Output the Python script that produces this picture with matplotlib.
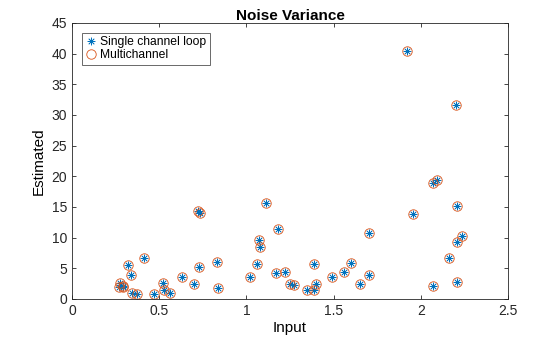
import matplotlib.pyplot as plt

plt.rcParams['font.family'] = ['Liberation Sans', 'DejaVu Sans']

# Input vs estimated noise variance
x_in = [0.72, 0.735, 1.11, 1.18, 1.07, 1.075, 1.06, 1.02, 0.32, 0.41, 0.34, 0.276,
        0.29, 0.27, 0.295, 0.345, 0.37, 0.47, 0.52, 0.53, 0.56, 0.63, 0.70, 0.73,
        0.83, 0.835, 1.17, 1.22, 1.25, 1.27, 1.35, 1.39, 1.40, 1.385, 1.49, 1.56,
        1.60, 1.65, 1.70, 1.70, 1.955, 1.92, 2.20, 2.07, 2.09, 2.21, 2.235, 2.21,
        2.16, 2.21, 2.07]
est_single = [14.4, 14.0, 15.7, 11.4, 9.6, 8.5, 5.7, 3.6, 5.5, 6.7, 3.9, 2.6,
              2.1, 2.0, 2.0, 1.0, 0.8, 0.8, 2.6, 1.5, 1.0, 3.6, 2.4, 5.2,
              6.0, 1.8, 4.2, 4.4, 2.4, 2.3, 1.5, 1.5, 2.4, 5.7, 3.6, 4.4,
              5.9, 2.4, 3.9, 10.8, 13.9, 40.4, 31.7, 18.9, 19.4, 15.2, 10.3, 9.3,
              6.7, 2.8, 2.1]
est_multi = list(est_single)

fig = plt.figure(figsize=(5.6, 3.37), dpi=100)
ax = fig.add_axes([0.1286, 0.1128, 0.7786, 0.819])

ax.plot(x_in, est_single, linestyle='none', marker=(8, 2, 0), markersize=5.5,
        markeredgewidth=0.5, color=(0, 0.447, 0.741), label='Single channel loop')
ax.plot(x_in, est_multi, linestyle='none', marker='o', markersize=6.8,
        markerfacecolor='none', markeredgewidth=0.6, color=(0.85, 0.325, 0.098),
        label='Multichannel')

ax.set_xlim(0, 2.5)
ax.set_ylim(0, 45)
ax.set_xticks([0, 0.5, 1, 1.5, 2, 2.5])
ax.set_xticklabels(['0', '0.5', '1', '1.5', '2', '2.5'])
ax.set_yticks(range(0, 46, 5))
ax.tick_params(direction='in', top=True, right=True, length=3, width=0.6,
               labelsize=10, colors='#262626')
for s in ax.spines.values():
    s.set_linewidth(0.6)
    s.set_color('#262626')

ax.set_xlabel('Input', fontsize=11, labelpad=2)
ax.set_ylabel('Estimated', fontsize=11, labelpad=4)
ax.set_title('Noise Variance', fontsize=11, fontweight='bold', pad=2)

leg = ax.legend(loc='upper left', fontsize=8.7, frameon=True, fancybox=False,
                edgecolor='#262626', borderpad=0.3, handletextpad=0.2,
                handlelength=1.0, borderaxespad=0.8, labelspacing=0.1)
leg.get_frame().set_linewidth(0.6)

fig.savefig('out.png', dpi=100)
